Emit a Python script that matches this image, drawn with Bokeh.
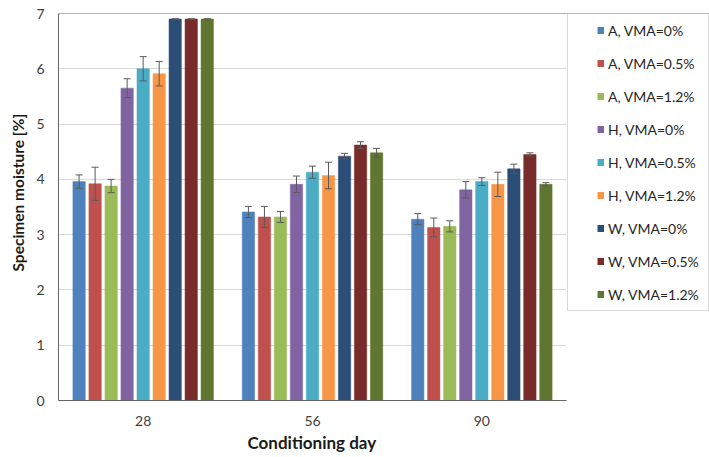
from bokeh.plotting import figure
from bokeh.models import (ColumnDataSource, Range1d, Whisker, TeeHead, FixedTicker,
                          Legend, LegendItem, Span, Title, BoxAnnotation)
from bokeh.transform import dodge
from bokeh.embed import file_html
from bokeh.resources import INLINE

days = ["28", "56", "90"]
series_labels = ["A, VMA=0%", "A, VMA=0.5%", "A, VMA=1.2%",
                 "H, VMA=0%", "H, VMA=0.5%", "H, VMA=1.2%",
                 "W, VMA=0%", "W, VMA=0.5%", "W, VMA=1.2%"]

a_0 = [3.96, 3.41, 3.28]
a_05 = [3.92, 3.32, 3.13]
a_12 = [3.88, 3.32, 3.15]
h_0 = [5.65, 3.91, 3.81]
h_05 = [6.00, 4.13, 3.96]
h_12 = [5.91, 4.07, 3.91]
w_0 = [6.90, 4.42, 4.19]
w_05 = [6.90, 4.62, 4.45]
w_12 = [6.90, 4.48, 3.91]

a_0_err = [0.12, 0.10, 0.10]
a_05_err = [0.30, 0.19, 0.17]
a_12_err = [0.12, 0.10, 0.10]
h_0_err = [0.17, 0.15, 0.15]
h_05_err = [0.22, 0.11, 0.07]
h_12_err = [0.22, 0.24, 0.22]
w_0_err = [0.005, 0.05, 0.085]
w_05_err = [0.005, 0.06, 0.03]
w_12_err = [0.005, 0.08, 0.03]

y_ticks = [0, 1, 2, 3, 4, 5, 6, 7]

values = [a_0, a_05, a_12, h_0, h_05, h_12, w_0, w_05, w_12]
errors = [a_0_err, a_05_err, a_12_err, h_0_err, h_05_err, h_12_err, w_0_err, w_05_err, w_12_err]
colors = ["#4F81BD", "#C0504D", "#9BBB59", "#8064A2", "#4BACC6", "#F79646",
          "#2C4D75", "#772C2A", "#5F7530"]

FONT = "Lato"
TXT = "#404040"

W, H = 709, 457
LEFT, CAT_RIGHT, TOP, BOTTOM = 58, 566, 13, 400
n_cat = len(days)
x_centers = [i + 0.5 for i in range(n_cat)]
x_end = n_cat * (W - LEFT) / (CAT_RIGHT - LEFT)

p = figure(width=W, height=H, x_range=Range1d(0, x_end),
           y_range=Range1d(0, 7), output_backend="svg", toolbar_location=None,
           min_border_left=LEFT, min_border_right=0, min_border_top=TOP,
           min_border_bottom=H - BOTTOM)

p.outline_line_color = None
p.xgrid.grid_line_color = None
p.ygrid.grid_line_color = "#d9d9d9"
p.ygrid.grid_line_width = 1
if "cross_bounds" in p.ygrid[0].properties():
    p.ygrid.cross_bounds = (0, n_cat)

pitch = 0.0946
bar_w = 0.073
items = []
for i, (vals, errs, col, lab) in enumerate(zip(values, errors, colors, series_labels)):
    off = (i - 4) * pitch
    src = ColumnDataSource(dict(x=x_centers, y=vals,
                                upper=[v + e for v, e in zip(vals, errs)],
                                lower=[v - e for v, e in zip(vals, errs)]))
    p.vbar(x=dodge("x", off), top="y", width=bar_w, source=src,
           fill_color=col, line_color=col, line_width=0.5)
    wh = Whisker(base=dodge("x", off), upper="upper", lower="lower",
                 source=src, line_color="#5a5a5a", line_width=1, level="annotation",
                 upper_head=TeeHead(size=7, line_color="#5a5a5a", line_width=1),
                 lower_head=TeeHead(size=7, line_color="#5a5a5a", line_width=1))
    p.add_layout(wh)
    lr = p.line(x=dodge("x", off), y="y", source=src,
                line_color=col, line_width=7, visible=False)
    items.append(LegendItem(label=lab, renderers=[lr]))

p.add_layout(Span(location=7, dimension="width", line_color="#666666", line_width=1))

p.yaxis.ticker = y_ticks
p.yaxis.axis_line_color = "#666666"
p.yaxis.major_tick_out = 0
p.yaxis.major_tick_in = 0
p.yaxis.minor_tick_out = 0
p.yaxis.minor_tick_in = 0
p.yaxis.major_label_standoff = 14
p.yaxis.major_label_text_font = FONT
p.yaxis.major_label_text_font_size = "14px"
p.yaxis.major_label_text_color = TXT

p.xaxis.ticker = FixedTicker(ticks=x_centers)
p.xaxis.major_label_overrides = {c: d for c, d in zip(x_centers, days)}
p.xaxis.bounds = (0, n_cat)
p.xaxis.axis_line_color = "#666666"
p.xaxis.major_tick_out = 0
p.xaxis.major_tick_in = 0
p.xaxis.minor_tick_out = 0
p.xaxis.minor_tick_in = 0
p.xaxis.major_label_standoff = 15
p.xaxis.major_label_text_font = FONT
p.xaxis.major_label_text_font_size = "14px"
p.xaxis.major_label_text_color = TXT

xtitle = Title(text="Conditioning day", align="left", offset=189, standoff=6,
               vertical_align="top",
               text_font=FONT, text_font_size="17px", text_font_style="bold",
               text_color="#1a1a1a")
p.add_layout(xtitle, "below")

ytitle = Title(text="Specimen moisture [%]", align="left", offset=129, standoff=12,
               vertical_align="middle",
               text_font=FONT, text_font_size="15.5px", text_font_style="bold",
               text_color="#1a1a1a")
p.add_layout(ytitle, "left")

legend_box = BoxAnnotation(left=567, right=708, top=13, bottom=310,
                           left_units="canvas", right_units="canvas",
                           top_units="canvas", bottom_units="canvas",
                           fill_color="white", fill_alpha=1.0,
                           line_color="#7f7f7f", line_width=1)
p.add_layout(legend_box)

legend = Legend(items=items, location=(539, 97), orientation="vertical", margin=0,
                padding=0, spacing=15, glyph_width=7, glyph_height=18,
                label_standoff=4, label_height=18,
                label_text_font=FONT, label_text_font_size="14px",
                label_text_color="#262626", border_line_color=None,
                background_fill_color=None)
p.add_layout(legend)

open("out.html", "w").write(file_html(p, INLINE))
